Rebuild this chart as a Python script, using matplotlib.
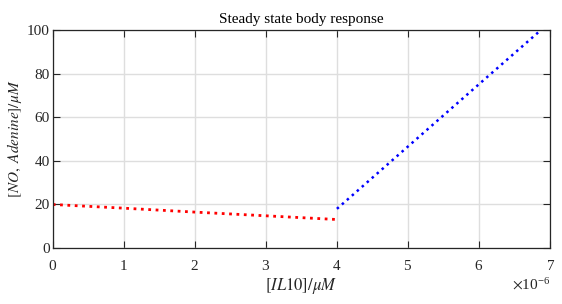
import numpy as np
import matplotlib.pyplot as plt
from matplotlib.ticker import ScalarFormatter

# IL10 concentration (x, in uM) and steady state responses
il10_low = np.array([0, 1, 2, 3, 4]) * 1e-6
resp_low = [20.0, 18.3, 16.5, 14.8, 13.1]

il10_high = np.array([4.0, 5.0, 6.0, 6.87]) * 1e-6
resp_high = [18.0, 46.6, 75.2, 100.0]

x_ticks = np.arange(0, 8) * 1e-6
y_ticks = [0, 20, 40, 60, 80, 100]

plt.rcParams['font.family'] = ['Liberation Serif', 'DejaVu Serif']
plt.rcParams['mathtext.fontset'] = 'stix'
plt.rcParams['font.size'] = 11

fig = plt.figure(figsize=(5.62, 3.04), dpi=100)
ax = fig.add_axes([0.0938, 0.184, 0.885, 0.717])

ax.plot(il10_low, resp_low, color='red', linestyle=':', linewidth=2.0)
ax.plot(il10_high, resp_high, color='blue', linestyle=':', linewidth=1.8)

ax.set_xlim(0, 7e-6)
ax.set_ylim(0, 100)
ax.set_xticks(x_ticks)
ax.set_yticks(y_ticks)

fmt = ScalarFormatter(useMathText=True)
fmt.set_powerlimits((-3, 3))
ax.xaxis.set_major_formatter(fmt)
ax.xaxis.get_offset_text().set_fontsize(11)
ax.xaxis.get_offset_text().set_color('#262626')
ax.xaxis.get_offset_text().set_y(-0.13)

ax.grid(True, color='#dedede', linewidth=1.0)
ax.set_axisbelow(True)
ax.tick_params(direction='in', top=True, right=True, length=5,
               color='#262626', labelcolor='#262626', labelsize=11)
ax.tick_params(axis='x', pad=8)
ax.tick_params(axis='y', pad=2)
for s in ax.spines.values():
    s.set_color('#262626')
    s.set_linewidth(0.9)

ax.set_title('Steady state body response', fontsize=11, pad=5)
ax.set_xlabel(r'$[IL10]/\mu M$', fontsize=12, color='#262626', labelpad=2)
ax.set_ylabel(r'$[NO,\ Adenine]/\mu M$', fontsize=11, color='#262626', labelpad=2)

fig.savefig('out.png', dpi=100)
